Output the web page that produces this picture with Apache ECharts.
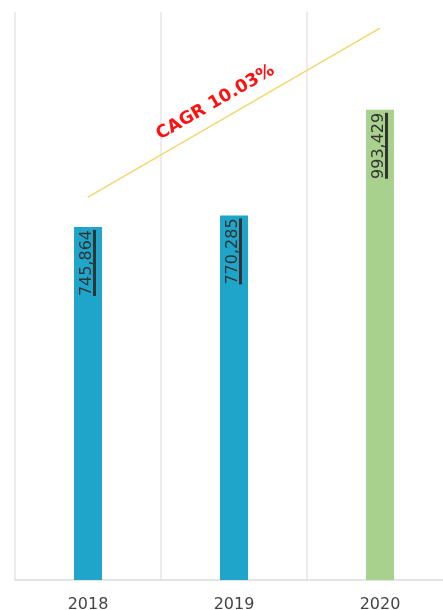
<!DOCTYPE html>
<html><head><meta charset="utf-8">
<script src="https://cdn.jsdelivr.net/npm/echarts@6/dist/echarts.min.js"></script>
<style>html,body{margin:0;padding:0;background:#fff}#c{width:443px;height:610px}</style>
</head><body><div id="c"></div>
<script>
var categories = ['2018', '2019', '2020'];
var values = [745864, 770285, 993429];
var barColors = ['#1ea5c9', '#1ea5c9', '#a9d18e'];
var cagrLabel = 'CAGR 10.03%';
var cagrStart = 809000;
var cagrEnd = 1166000;

var labelFont = '16px "DejaVu Sans"';
var ctx = document.createElement('canvas').getContext('2d');
ctx.font = labelFont;
function fmt(v){ return v.toLocaleString('en-US'); }
function tw(s){ return Math.round(ctx.measureText(s).width); }

var chart = echarts.init(document.getElementById('c'));
chart.setOption({
  animation: false,
  grid: {left: 15, top: 12, width: 438, height: 568, containLabel: false, outerBoundsMode: 'none'},
  xAxis: {
    type: 'category', data: categories,
    axisTick: {show: false},
    axisLine: {lineStyle: {color: '#dcdcdc', width: 1.5}},
    axisLabel: {color: '#444', fontSize: 16, margin: 17, fontFamily: 'DejaVu Sans'},
    splitLine: {show: true, lineStyle: {color: '#e6e6e6', width: 1.5}}
  },
  yAxis: {type: 'value', min: 0, max: 1200000, show: false, splitLine: {show: false}},
  series: [{
    type: 'bar', barWidth: 28,
    data: values.map(function(v, i){ return {value: v, itemStyle: {color: barColors[i]}}; }),
    label: {
      show: true, position: 'insideTop', rotate: 90, align: 'right', verticalAlign: 'middle',
      distance: 3,
      formatter: function(p){ var s = fmt(p.value); return '{a|' + s + '}\n{u' + p.dataIndex + '|}'; },
      rich: (function(){
        var r = {a: {color: '#333', fontSize: 16, fontFamily: 'DejaVu Sans', lineHeight: 13}};
        values.forEach(function(v, i){ r['u' + i] = {height: 3, width: tw(fmt(v)), backgroundColor: '#333'}; });
        return r;
      })()
    },
    markLine: {
      silent: true, symbol: 'none',
      lineStyle: {color: '#f5d66e', width: 1.5, type: 'solid'},
      label: {show: true, position: 'middle', formatter: cagrLabel, color: '#ff1010',
        fontWeight: 'bold', fontSize: 17.5, fontFamily: 'DejaVu Sans', distance: 9,
        padding: [0, 22, 0, 0]},
      data: [[{coord: [0, cagrStart]}, {coord: [2, cagrEnd]}]]
    }
  }]
});
</script></body></html>
